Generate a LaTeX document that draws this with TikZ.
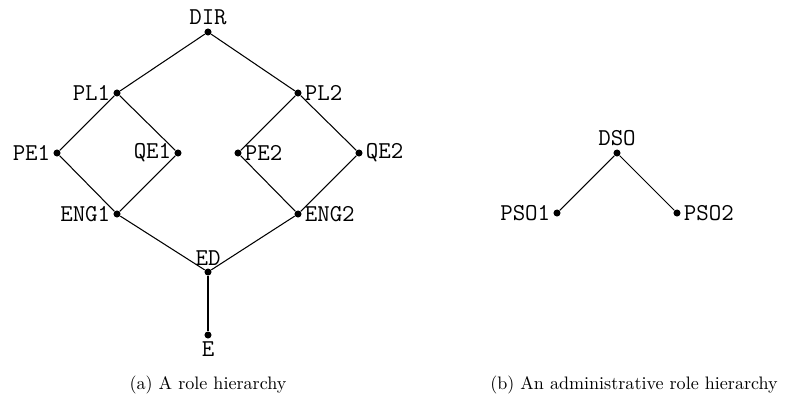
\documentclass[tikz,border=0pt]{standalone}
\begin{document}
\begin{tikzpicture}[x=0.57pt,y=-0.57pt,
  dot/.style={circle,fill=black,inner sep=0pt,minimum size=4pt},
  lbl/.style={font=\fontsize{13.8}{15}\selectfont\ttfamily,inner sep=1.5pt},
  edge/.style={line width=0.6pt},
  captxt/.style={font=\fontsize{10.3}{12}\selectfont}]
\useasboundingbox (0,0) rectangle (793,412);
% (a)
\node[dot,label={[lbl]above:DIR}] (DIR) at (208,32) {};
\node[dot,label={[lbl]left:PL1}] (PL1) at (117,93) {};
\node[dot,label={[lbl]right:PL2}] (PL2) at (298,93) {};
\node[dot,label={[lbl]left:PE1}] (PE1) at (57,153) {};
\node[dot,label={[lbl]left:QE1}] (QE1) at (178,153) {};
\node[dot,label={[lbl]right:PE2}] (PE2) at (238,153) {};
\node[dot,label={[lbl]right:QE2}] (QE2) at (359,153) {};
\node[dot,label={[lbl]left:ENG1}] (ENG1) at (117,214) {};
\node[dot,label={[lbl]right:ENG2}] (ENG2) at (298,214) {};
\node[dot,label={[lbl]above:ED}] (ED) at (208,272) {};
\node[dot,label={[lbl]below:E}] (E) at (208,335) {};
\draw[edge] (DIR) -- (PL1);
\draw[edge] (DIR) -- (PL2);
\draw[edge] (PL1) -- (PE1);
\draw[edge] (PL1) -- (QE1);
\draw[edge] (PL2) -- (PE2);
\draw[edge] (PL2) -- (QE2);
\draw[edge] (PE1) -- (ENG1);
\draw[edge] (QE1) -- (ENG1);
\draw[edge] (PE2) -- (ENG2);
\draw[edge] (QE2) -- (ENG2);
\draw[edge] (ENG1) -- (ED);
\draw[edge] (ENG2) -- (ED);
\draw[edge] (ED) -- (E);
% (b)
\node[dot,label={[lbl]above:DSO}] (DSO) at (617,153) {};
\node[dot,label={[lbl]left:PSO1}] (PSO1) at (557,213) {};
\node[dot,label={[lbl]right:PSO2}] (PSO2) at (677,213) {};
\draw[edge] (DSO) -- (PSO1);
\draw[edge] (DSO) -- (PSO2);
% captions
\node[captxt] (capa) at (208,385) {(a) A role hierarchy};
\node[captxt] (capb) at (634,385) {(b) An administrative role hierarchy};
\end{tikzpicture}
\end{document}
